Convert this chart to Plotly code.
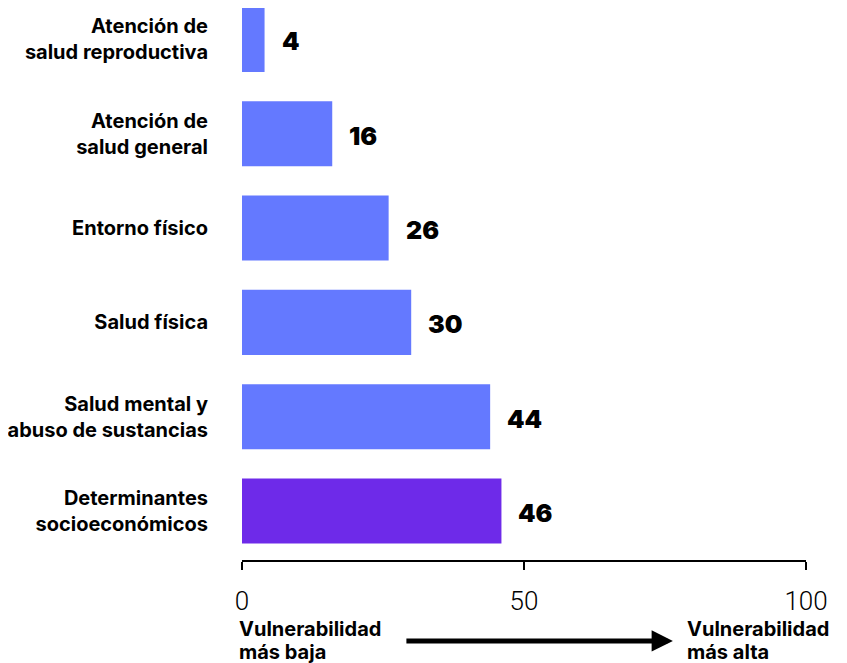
import plotly.graph_objects as go

categories = [
    "Atención de<br>salud reproductiva",
    "Atención de<br>salud general",
    "Entorno físico",
    "Salud física",
    "Salud mental y<br>abuso de sustancias",
    "Determinantes<br>socioeconómicos",
]
values = [4, 16, 26, 30, 44, 46]
bar_colors = ["#6479FF", "#6479FF", "#6479FF", "#6479FF", "#6479FF", "#6E2AE9"]
x_ticks = [0, 50, 100]
low_label = ["Vulnerabilidad", "más baja"]
high_label = ["Vulnerabilidad", "más alta"]

BOLD = "Inter"

fig = go.Figure()
fig.add_trace(go.Bar(
    x=values,
    y=categories,
    orientation="h",
    marker=dict(color=bar_colors, line=dict(width=0)),
    width=0.69,
    hoverinfo="skip",
))

annotations = []
for c, v in zip(categories, values):
    annotations.append(dict(
        x=v, y=c, xref="x", yref="y",
        text=str(v), showarrow=False,
        xanchor="left", yanchor="middle",
        xshift=15, yshift=-2,
        font=dict(family=BOLD, size=25, color="#000000", weight=900),
    ))

line_y = [-0.1250, -0.1667]
for txt, yy in zip(low_label, line_y):
    annotations.append(dict(
        x=0, y=yy, xref="x", yref="paper",
        text=txt, showarrow=False, align="left",
        xanchor="left", yanchor="middle", xshift=-5,
        font=dict(family=BOLD, size=20, color="#000000", weight=700),
    ))
for txt, yy in zip(high_label, line_y):
    annotations.append(dict(
        x=100, y=yy, xref="x", yref="paper",
        text=txt, showarrow=False, align="left",
        xanchor="left", yanchor="middle", xshift=-121,
        font=dict(family=BOLD, size=20, color="#000000", weight=700),
    ))
annotations.append(dict(
    x=76.4, y=-0.1467, xref="x", yref="paper",
    ax=-268, ay=0, axref="pixel", ayref="pixel",
    text="", showarrow=True, arrowhead=2, arrowsize=0.85,
    arrowwidth=5, arrowcolor="#000000",
))

fig.update_layout(
    width=839, height=655,
    margin=dict(l=234, r=41, t=0, b=103),
    paper_bgcolor="white", plot_bgcolor="white",
    showlegend=False,
    annotations=annotations,
    font=dict(family=BOLD, color="#000000"),
)
fig.update_xaxes(
    range=[0, 100],
    tickvals=x_ticks,
    ticktext=[str(t) for t in x_ticks],
    showgrid=False, zeroline=False,
    showline=True, linecolor="#000000", linewidth=1.5,
    ticks="outside", ticklen=8, tickwidth=1.5, tickcolor="#000000",
    tickfont=dict(family="Roboto", size=26, color="#000000", weight=300),
    ticklabelstandoff=9,
    side="bottom",
)
fig.update_yaxes(
    type="category",
    categoryorder="array", categoryarray=categories,
    range=[5.52, -0.334],
    showgrid=False, zeroline=False, showline=False,
    ticks="",
    tickfont=dict(family=BOLD, size=20, color="#000000", weight=700),
    ticklabelstandoff=33,
)

fig.write_html("out.html")
